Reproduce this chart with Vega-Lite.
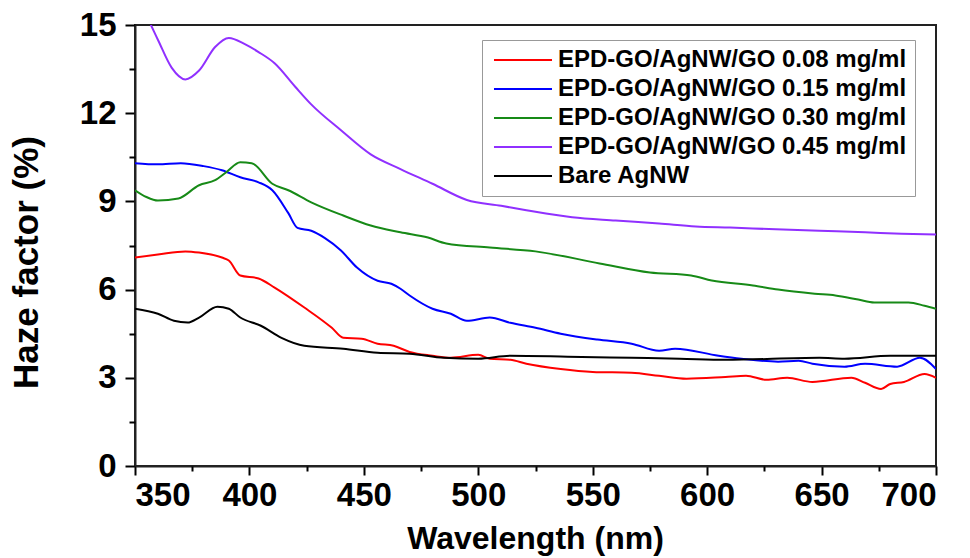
{
  "$schema": "https://vega.github.io/schema/vega-lite/v6.json",
  "width": 801,
  "height": 441,
  "autosize": {"type": "none"},
  "padding": {"left": 135, "top": 25, "right": 34, "bottom": 92},
  "background": "white",
  "config": {
    "font": "Liberation Sans",
    "view": {"stroke": "#222", "strokeWidth": 2},
    "axis": {
      "labelFont": "Liberation Sans",
      "titleFont": "Liberation Sans",
      "labelFontWeight": "bold",
      "titleFontWeight": "bold",
      "labelColor": "black",
      "titleColor": "black",
      "labelFontSize": 33,
      "titleFontSize": 32,
      "domainColor": "#222",
      "domainWidth": 2,
      "grid": false
    }
  },
  "data": {"values": [
    {"s":"EPD-GO/AgNW/GO 0.08 mg/ml","w":350,"h":7.09},{"s":"EPD-GO/AgNW/GO 0.08 mg/ml","w":360,"h":7.19},{"s":"EPD-GO/AgNW/GO 0.08 mg/ml","w":372,"h":7.3},{"s":"EPD-GO/AgNW/GO 0.08 mg/ml","w":378,"h":7.26},{"s":"EPD-GO/AgNW/GO 0.08 mg/ml","w":388,"h":7.09},{"s":"EPD-GO/AgNW/GO 0.08 mg/ml","w":391,"h":6.99},{"s":"EPD-GO/AgNW/GO 0.08 mg/ml","w":396,"h":6.48},{"s":"EPD-GO/AgNW/GO 0.08 mg/ml","w":404,"h":6.38},{"s":"EPD-GO/AgNW/GO 0.08 mg/ml","w":411,"h":6.07},{"s":"EPD-GO/AgNW/GO 0.08 mg/ml","w":424,"h":5.39},{"s":"EPD-GO/AgNW/GO 0.08 mg/ml","w":436,"h":4.7},{"s":"EPD-GO/AgNW/GO 0.08 mg/ml","w":441,"h":4.36},{"s":"EPD-GO/AgNW/GO 0.08 mg/ml","w":449,"h":4.33},{"s":"EPD-GO/AgNW/GO 0.08 mg/ml","w":456,"h":4.16},{"s":"EPD-GO/AgNW/GO 0.08 mg/ml","w":463,"h":4.09},{"s":"EPD-GO/AgNW/GO 0.08 mg/ml","w":470,"h":3.88},{"s":"EPD-GO/AgNW/GO 0.08 mg/ml","w":480,"h":3.75},{"s":"EPD-GO/AgNW/GO 0.08 mg/ml","w":488,"h":3.68},{"s":"EPD-GO/AgNW/GO 0.08 mg/ml","w":500,"h":3.78},{"s":"EPD-GO/AgNW/GO 0.08 mg/ml","w":505,"h":3.65},{"s":"EPD-GO/AgNW/GO 0.08 mg/ml","w":514,"h":3.61},{"s":"EPD-GO/AgNW/GO 0.08 mg/ml","w":521,"h":3.48},{"s":"EPD-GO/AgNW/GO 0.08 mg/ml","w":536,"h":3.3},{"s":"EPD-GO/AgNW/GO 0.08 mg/ml","w":550,"h":3.2},{"s":"EPD-GO/AgNW/GO 0.08 mg/ml","w":567,"h":3.17},{"s":"EPD-GO/AgNW/GO 0.08 mg/ml","w":579,"h":3.07},{"s":"EPD-GO/AgNW/GO 0.08 mg/ml","w":591,"h":2.97},{"s":"EPD-GO/AgNW/GO 0.08 mg/ml","w":608,"h":3.03},{"s":"EPD-GO/AgNW/GO 0.08 mg/ml","w":617,"h":3.07},{"s":"EPD-GO/AgNW/GO 0.08 mg/ml","w":626,"h":2.93},{"s":"EPD-GO/AgNW/GO 0.08 mg/ml","w":635,"h":3.0},{"s":"EPD-GO/AgNW/GO 0.08 mg/ml","w":646,"h":2.86},{"s":"EPD-GO/AgNW/GO 0.08 mg/ml","w":663,"h":3.0},{"s":"EPD-GO/AgNW/GO 0.08 mg/ml","w":669,"h":2.83},{"s":"EPD-GO/AgNW/GO 0.08 mg/ml","w":676,"h":2.62},{"s":"EPD-GO/AgNW/GO 0.08 mg/ml","w":680,"h":2.79},{"s":"EPD-GO/AgNW/GO 0.08 mg/ml","w":686,"h":2.86},{"s":"EPD-GO/AgNW/GO 0.08 mg/ml","w":695,"h":3.13},{"s":"EPD-GO/AgNW/GO 0.08 mg/ml","w":700,"h":3.0},

    {"s":"EPD-GO/AgNW/GO 0.15 mg/ml","w":350,"h":10.3},{"s":"EPD-GO/AgNW/GO 0.15 mg/ml","w":360,"h":10.26},{"s":"EPD-GO/AgNW/GO 0.15 mg/ml","w":370,"h":10.3},{"s":"EPD-GO/AgNW/GO 0.15 mg/ml","w":380,"h":10.2},{"s":"EPD-GO/AgNW/GO 0.15 mg/ml","w":388,"h":10.06},{"s":"EPD-GO/AgNW/GO 0.15 mg/ml","w":396,"h":9.82},{"s":"EPD-GO/AgNW/GO 0.15 mg/ml","w":404,"h":9.65},{"s":"EPD-GO/AgNW/GO 0.15 mg/ml","w":410,"h":9.38},{"s":"EPD-GO/AgNW/GO 0.15 mg/ml","w":417,"h":8.6},{"s":"EPD-GO/AgNW/GO 0.15 mg/ml","w":421,"h":8.1},{"s":"EPD-GO/AgNW/GO 0.15 mg/ml","w":427,"h":8.0},{"s":"EPD-GO/AgNW/GO 0.15 mg/ml","w":433,"h":7.75},{"s":"EPD-GO/AgNW/GO 0.15 mg/ml","w":440,"h":7.33},{"s":"EPD-GO/AgNW/GO 0.15 mg/ml","w":447,"h":6.75},{"s":"EPD-GO/AgNW/GO 0.15 mg/ml","w":456,"h":6.3},{"s":"EPD-GO/AgNW/GO 0.15 mg/ml","w":462,"h":6.2},{"s":"EPD-GO/AgNW/GO 0.15 mg/ml","w":466,"h":6.03},{"s":"EPD-GO/AgNW/GO 0.15 mg/ml","w":470,"h":5.8},{"s":"EPD-GO/AgNW/GO 0.15 mg/ml","w":480,"h":5.35},{"s":"EPD-GO/AgNW/GO 0.15 mg/ml","w":488,"h":5.18},{"s":"EPD-GO/AgNW/GO 0.15 mg/ml","w":495,"h":4.94},{"s":"EPD-GO/AgNW/GO 0.15 mg/ml","w":505,"h":5.05},{"s":"EPD-GO/AgNW/GO 0.15 mg/ml","w":514,"h":4.87},{"s":"EPD-GO/AgNW/GO 0.15 mg/ml","w":525,"h":4.7},{"s":"EPD-GO/AgNW/GO 0.15 mg/ml","w":536,"h":4.5},{"s":"EPD-GO/AgNW/GO 0.15 mg/ml","w":552,"h":4.3},{"s":"EPD-GO/AgNW/GO 0.15 mg/ml","w":567,"h":4.16},{"s":"EPD-GO/AgNW/GO 0.15 mg/ml","w":579,"h":3.92},{"s":"EPD-GO/AgNW/GO 0.15 mg/ml","w":586,"h":3.99},{"s":"EPD-GO/AgNW/GO 0.15 mg/ml","w":605,"h":3.75},{"s":"EPD-GO/AgNW/GO 0.15 mg/ml","w":615,"h":3.65},{"s":"EPD-GO/AgNW/GO 0.15 mg/ml","w":631,"h":3.55},{"s":"EPD-GO/AgNW/GO 0.15 mg/ml","w":640,"h":3.58},{"s":"EPD-GO/AgNW/GO 0.15 mg/ml","w":646,"h":3.48},{"s":"EPD-GO/AgNW/GO 0.15 mg/ml","w":660,"h":3.38},{"s":"EPD-GO/AgNW/GO 0.15 mg/ml","w":669,"h":3.48},{"s":"EPD-GO/AgNW/GO 0.15 mg/ml","w":683,"h":3.38},{"s":"EPD-GO/AgNW/GO 0.15 mg/ml","w":693,"h":3.68},{"s":"EPD-GO/AgNW/GO 0.15 mg/ml","w":700,"h":3.3},

    {"s":"EPD-GO/AgNW/GO 0.30 mg/ml","w":350,"h":9.38},{"s":"EPD-GO/AgNW/GO 0.30 mg/ml","w":355,"h":9.15},{"s":"EPD-GO/AgNW/GO 0.30 mg/ml","w":360,"h":9.03},{"s":"EPD-GO/AgNW/GO 0.30 mg/ml","w":369,"h":9.1},{"s":"EPD-GO/AgNW/GO 0.30 mg/ml","w":378,"h":9.55},{"s":"EPD-GO/AgNW/GO 0.30 mg/ml","w":385,"h":9.72},{"s":"EPD-GO/AgNW/GO 0.30 mg/ml","w":390,"h":10.0},{"s":"EPD-GO/AgNW/GO 0.30 mg/ml","w":396,"h":10.33},{"s":"EPD-GO/AgNW/GO 0.30 mg/ml","w":401,"h":10.3},{"s":"EPD-GO/AgNW/GO 0.30 mg/ml","w":410,"h":9.6},{"s":"EPD-GO/AgNW/GO 0.30 mg/ml","w":417,"h":9.38},{"s":"EPD-GO/AgNW/GO 0.30 mg/ml","w":427,"h":8.97},{"s":"EPD-GO/AgNW/GO 0.30 mg/ml","w":441,"h":8.52},{"s":"EPD-GO/AgNW/GO 0.30 mg/ml","w":453,"h":8.18},{"s":"EPD-GO/AgNW/GO 0.30 mg/ml","w":466,"h":7.95},{"s":"EPD-GO/AgNW/GO 0.30 mg/ml","w":478,"h":7.77},{"s":"EPD-GO/AgNW/GO 0.30 mg/ml","w":486,"h":7.57},{"s":"EPD-GO/AgNW/GO 0.30 mg/ml","w":505,"h":7.43},{"s":"EPD-GO/AgNW/GO 0.30 mg/ml","w":525,"h":7.3},{"s":"EPD-GO/AgNW/GO 0.30 mg/ml","w":553,"h":6.89},{"s":"EPD-GO/AgNW/GO 0.30 mg/ml","w":575,"h":6.58},{"s":"EPD-GO/AgNW/GO 0.30 mg/ml","w":593,"h":6.48},{"s":"EPD-GO/AgNW/GO 0.30 mg/ml","w":602,"h":6.31},{"s":"EPD-GO/AgNW/GO 0.30 mg/ml","w":620,"h":6.14},{"s":"EPD-GO/AgNW/GO 0.30 mg/ml","w":631,"h":6.0},{"s":"EPD-GO/AgNW/GO 0.30 mg/ml","w":647,"h":5.86},{"s":"EPD-GO/AgNW/GO 0.30 mg/ml","w":656,"h":5.8},{"s":"EPD-GO/AgNW/GO 0.30 mg/ml","w":666,"h":5.66},{"s":"EPD-GO/AgNW/GO 0.30 mg/ml","w":673,"h":5.56},{"s":"EPD-GO/AgNW/GO 0.30 mg/ml","w":688,"h":5.56},{"s":"EPD-GO/AgNW/GO 0.30 mg/ml","w":695,"h":5.45},{"s":"EPD-GO/AgNW/GO 0.30 mg/ml","w":700,"h":5.35},

    {"s":"EPD-GO/AgNW/GO 0.45 mg/ml","w":350,"h":15.9},{"s":"EPD-GO/AgNW/GO 0.45 mg/ml","w":355,"h":15.3},{"s":"EPD-GO/AgNW/GO 0.45 mg/ml","w":360,"h":14.5},{"s":"EPD-GO/AgNW/GO 0.45 mg/ml","w":366,"h":13.55},{"s":"EPD-GO/AgNW/GO 0.45 mg/ml","w":372,"h":13.15},{"s":"EPD-GO/AgNW/GO 0.45 mg/ml","w":378,"h":13.45},{"s":"EPD-GO/AgNW/GO 0.45 mg/ml","w":385,"h":14.25},{"s":"EPD-GO/AgNW/GO 0.45 mg/ml","w":391,"h":14.56},{"s":"EPD-GO/AgNW/GO 0.45 mg/ml","w":398,"h":14.35},{"s":"EPD-GO/AgNW/GO 0.45 mg/ml","w":404,"h":14.08},{"s":"EPD-GO/AgNW/GO 0.45 mg/ml","w":411,"h":13.7},{"s":"EPD-GO/AgNW/GO 0.45 mg/ml","w":420,"h":12.9},{"s":"EPD-GO/AgNW/GO 0.45 mg/ml","w":427,"h":12.3},{"s":"EPD-GO/AgNW/GO 0.45 mg/ml","w":440,"h":11.42},{"s":"EPD-GO/AgNW/GO 0.45 mg/ml","w":453,"h":10.6},{"s":"EPD-GO/AgNW/GO 0.45 mg/ml","w":466,"h":10.1},{"s":"EPD-GO/AgNW/GO 0.45 mg/ml","w":480,"h":9.6},{"s":"EPD-GO/AgNW/GO 0.45 mg/ml","w":495,"h":9.05},{"s":"EPD-GO/AgNW/GO 0.45 mg/ml","w":510,"h":8.85},{"s":"EPD-GO/AgNW/GO 0.45 mg/ml","w":521,"h":8.7},{"s":"EPD-GO/AgNW/GO 0.45 mg/ml","w":541,"h":8.46},{"s":"EPD-GO/AgNW/GO 0.45 mg/ml","w":560,"h":8.35},{"s":"EPD-GO/AgNW/GO 0.45 mg/ml","w":579,"h":8.25},{"s":"EPD-GO/AgNW/GO 0.45 mg/ml","w":595,"h":8.15},{"s":"EPD-GO/AgNW/GO 0.45 mg/ml","w":610,"h":8.11},{"s":"EPD-GO/AgNW/GO 0.45 mg/ml","w":630,"h":8.05},{"s":"EPD-GO/AgNW/GO 0.45 mg/ml","w":649,"h":8.0},{"s":"EPD-GO/AgNW/GO 0.45 mg/ml","w":669,"h":7.95},{"s":"EPD-GO/AgNW/GO 0.45 mg/ml","w":685,"h":7.9},{"s":"EPD-GO/AgNW/GO 0.45 mg/ml","w":700,"h":7.87},

    {"s":"Bare AgNW","w":350,"h":5.35},{"s":"Bare AgNW","w":360,"h":5.18},{"s":"Bare AgNW","w":367,"h":4.94},{"s":"Bare AgNW","w":373,"h":4.88},{"s":"Bare AgNW","w":378,"h":5.05},{"s":"Bare AgNW","w":386,"h":5.42},{"s":"Bare AgNW","w":391,"h":5.35},{"s":"Bare AgNW","w":396,"h":5.05},{"s":"Bare AgNW","w":405,"h":4.77},{"s":"Bare AgNW","w":414,"h":4.36},{"s":"Bare AgNW","w":424,"h":4.09},{"s":"Bare AgNW","w":441,"h":3.99},{"s":"Bare AgNW","w":456,"h":3.85},{"s":"Bare AgNW","w":470,"h":3.82},{"s":"Bare AgNW","w":485,"h":3.68},{"s":"Bare AgNW","w":500,"h":3.65},{"s":"Bare AgNW","w":514,"h":3.75},{"s":"Bare AgNW","w":539,"h":3.72},{"s":"Bare AgNW","w":567,"h":3.68},{"s":"Bare AgNW","w":588,"h":3.65},{"s":"Bare AgNW","w":608,"h":3.61},{"s":"Bare AgNW","w":649,"h":3.68},{"s":"Bare AgNW","w":660,"h":3.65},{"s":"Bare AgNW","w":680,"h":3.75},{"s":"Bare AgNW","w":700,"h":3.75}
  ]},
  "layer": [
    {
      "mark": {"type": "line", "strokeWidth": 2, "interpolate": "monotone", "clip": true},
      "encoding": {
        "x": {"field": "w", "type": "quantitative",
              "scale": {"domain": [350, 700], "nice": false},
              "axis": {"values": [350,400,450,500,550,600,650,700], "ticks": true, "tickSize": 9, "tickColor": "black", "tickWidth": 2, "labelPadding": 4,
                       "title": "Wavelength (nm)", "titleY": 57, "titleX": 400}},
        "y": {"field": "h", "type": "quantitative",
              "scale": {"domain": [0, 15], "nice": false},
              "axis": {"values": [0,3,6,9,12,15], "ticks": true, "tickSize": 10, "tickColor": "black", "tickWidth": 2, "labelPadding": 9,
                       "title": "Haze factor (%)", "titleFontSize": 35, "titleX": -91, "titleY": 237}},
        "color": {"field": "s", "type": "nominal",
                  "scale": {"domain": ["EPD-GO/AgNW/GO 0.08 mg/ml","EPD-GO/AgNW/GO 0.15 mg/ml","EPD-GO/AgNW/GO 0.30 mg/ml","EPD-GO/AgNW/GO 0.45 mg/ml","Bare AgNW"],
                            "range": ["#ff0000","#0000ff","#178a17","#9030ff","#000000"]},
                  "legend": {"title": null, "orient": "none", "legendX": 347, "legendY": 15,
                             "symbolType": "M-3,0L3,0", "symbolSize": 374, "symbolStrokeWidth": 2,
                             "symbolOffset": 21,
                             "labelFont": "Liberation Sans", "labelFontWeight": "bold", "labelFontSize": 24,
                             "labelColor": "black", "labelLimit": 0, "labelOffset": 23,
                             "strokeColor": "#999", "fillColor": "white", "padding": 8, "rowPadding": 5}},
        "detail": {"field": "s"}
      }
    },
    {
      "mark": {"type": "point", "opacity": 0},
      "encoding": {
        "x": {"field": "w", "type": "quantitative",
              "scale": {"domain": [350, 700], "nice": false},
              "axis": {"orient": "bottom", "values": [375,425,475,525,575,625,675], "ticks": true, "tickSize": 5, "tickColor": "black", "tickWidth": 2,
                       "labels": false, "domain": false, "title": null}},
        "y": {"field": "h", "type": "quantitative",
              "scale": {"domain": [0, 15], "nice": false},
              "axis": {"orient": "left", "values": [1.5,4.5,7.5,10.5,13.5], "ticks": true, "tickSize": 6, "tickColor": "black", "tickWidth": 2,
                       "labels": false, "domain": false, "title": null}}
      }
    }
  ],
  "resolve": {"axis": {"x": "independent", "y": "independent"}}
}
